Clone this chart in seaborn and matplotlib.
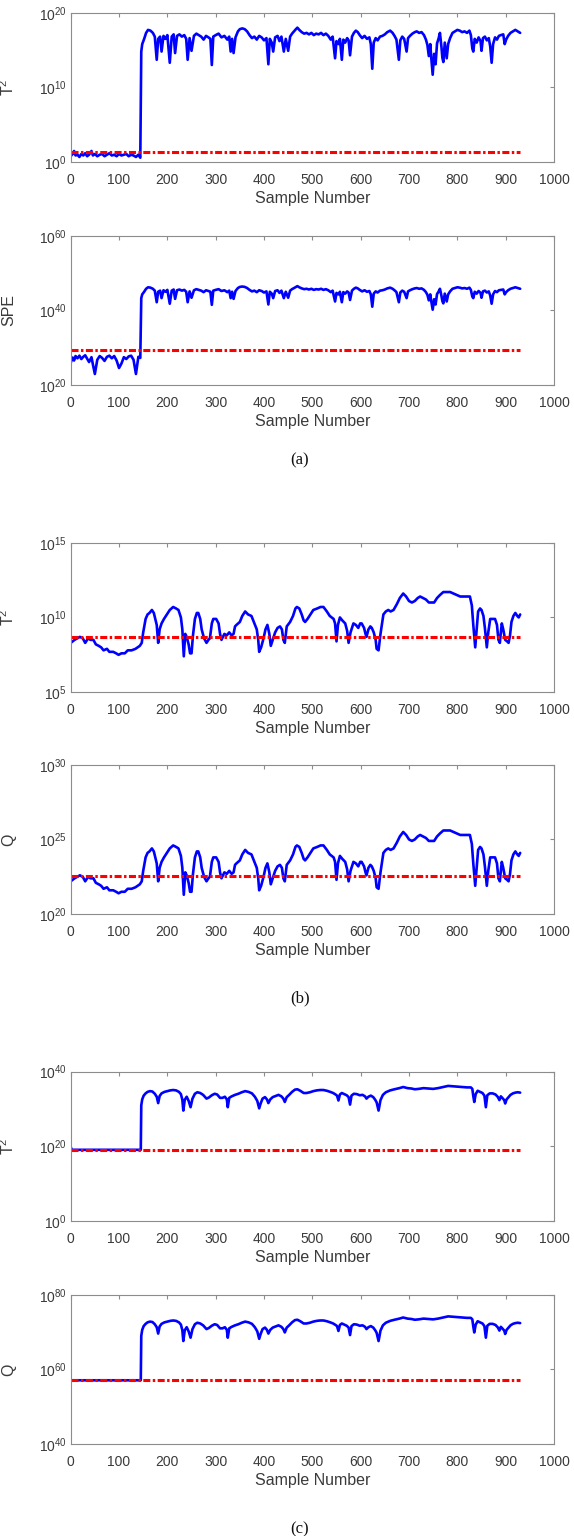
import numpy as np
import matplotlib.pyplot as plt
import seaborn as sns
from matplotlib.ticker import NullLocator

# !! Dados (expoentes log10) !!
a_samples = [0, 4, 7, 10, 14, 18, 22, 26, 30, 34,
             38, 43, 46, 50, 55, 60, 65, 70, 75, 80,
             85, 90, 95, 100, 105, 110, 115, 120, 125, 130,
             135, 140, 144, 146, 148, 152, 156, 160, 165, 170,
             174, 178, 181, 185, 188, 192, 196, 200, 205, 209,
             213, 216, 220, 225, 230, 235, 239, 242, 246, 250,
             255, 260, 265, 270, 275, 280, 285, 289, 292, 295,
             300, 306, 312, 318, 324, 328, 331, 334, 337, 341,
             346, 350, 355, 360, 365, 370, 375, 380, 385, 390,
             395, 400, 405, 409, 412, 416, 419, 423, 428, 432,
             436, 441, 445, 450, 454, 458, 462, 466, 469, 473,
             478, 483, 488, 493, 498, 503, 508, 513, 518, 523,
             528, 533, 538, 542, 547, 550, 554, 557, 561, 564,
             568, 572, 575, 578, 582, 586, 590, 594, 598, 603,
             608, 613, 618, 621, 624, 627, 631, 635, 640, 645,
             650, 655, 661, 666, 670, 674, 679, 682, 686, 690,
             695, 698, 702, 707, 712, 716, 721, 726, 731, 735,
             738, 741, 744, 746, 749, 752, 755, 758, 761, 764,
             767, 769, 771, 774, 778, 781, 785, 790, 795, 800,
             805, 810, 815, 820, 825, 828, 831, 833, 836, 840,
             844, 848, 850, 853, 857, 861, 865, 868, 871, 874,
             878, 882, 886, 890, 895, 898, 901, 905, 910, 915,
             920, 925, 930]
a_t2 = [0.8, 1.1, 1.5, 0.9, 1.0, 0.7, 1.1, 0.9, 1.2, 0.8,
        1.0, 1.5, 0.9, 1.1, 0.8, 1.0, 1.1, 0.8, 1.0, 1.2,
        0.9, 1.0, 0.8, 1.1, 0.9, 1.0, 1.1, 0.8, 1.0, 0.9,
        0.7, 1.0, 0.6, 14.8, 15.8, 16.5, 17.3, 17.7, 17.6, 17.3,
        16.8, 13.7, 16.5, 16.8, 14.8, 16.9, 16.5, 17.0, 13.3, 16.8,
        17.1, 14.6, 16.9, 17.1, 16.8, 17.0, 16.5, 13.7, 16.6, 14.9,
        16.9, 17.2, 17.0, 16.8, 16.4, 16.9, 16.7, 16.5, 13.0, 16.8,
        17.0, 17.2, 16.7, 16.9, 16.4, 16.8, 14.8, 16.5, 14.6, 16.7,
        17.5, 17.8, 17.9, 17.8, 17.5, 17.0, 16.6, 16.8, 16.4, 16.9,
        16.7, 16.3, 16.6, 13.1, 16.5, 16.0, 14.8, 16.7, 16.9, 16.2,
        16.8, 14.8, 16.5, 14.9, 16.8, 17.2, 17.5, 17.8, 18.0, 17.7,
        17.4, 17.2, 17.3, 17.1, 17.3, 17.0, 17.2, 17.1, 17.3, 17.0,
        17.2, 16.9, 16.4, 16.8, 13.9, 16.2, 15.8, 16.5, 13.7, 16.4,
        16.0, 16.6, 16.3, 14.3, 16.8, 17.3, 17.6, 17.4, 17.0, 16.6,
        16.9, 16.5, 16.7, 15.8, 12.5, 16.0, 16.6, 16.3, 16.8, 16.9,
        17.1, 17.4, 17.6, 17.3, 16.9, 16.4, 13.7, 16.3, 16.8, 16.5,
        14.8, 16.6, 16.9, 17.2, 17.4, 17.5, 17.3, 17.4, 17.0, 16.4,
        15.7, 14.2, 15.8, 14.0, 11.7, 14.5, 13.1, 15.9, 16.5, 17.3,
        15.5, 14.0, 13.4, 16.0, 13.9, 15.8, 16.6, 17.3, 17.5, 17.7,
        17.6, 17.4, 17.5, 17.3, 17.6, 17.0, 15.2, 14.8, 16.5, 16.0,
        16.7, 16.2, 14.9, 16.6, 16.8, 16.3, 16.6, 15.5, 13.3, 15.8,
        16.7, 16.4, 16.9, 17.0, 17.1, 15.8, 16.4, 16.9, 17.3, 17.5,
        17.7, 17.5, 17.3]
a_spe = [26.0, 27.4, 26.6, 27.8, 27.2, 27.9, 27.0, 27.6, 28.0, 27.1,
         26.2, 27.5, 25.5, 23.0, 26.8, 27.8, 27.3, 26.5, 27.6, 27.9,
         27.2, 27.8, 26.6, 24.6, 25.8, 27.5, 27.0, 27.7, 27.9, 26.8,
         23.0, 27.6, 27.3, 43.3, 44.3, 45.0, 45.8, 46.2, 46.1, 45.8,
         45.3, 42.2, 45.0, 45.3, 43.3, 45.4, 45.0, 45.5, 41.8, 45.3,
         45.6, 43.1, 45.4, 45.6, 45.3, 45.5, 45.0, 42.2, 45.1, 43.4,
         45.4, 45.7, 45.5, 45.3, 44.9, 45.4, 45.2, 45.0, 41.5, 45.3,
         45.5, 45.7, 45.2, 45.4, 44.9, 45.3, 43.3, 45.0, 43.1, 45.2,
         46.0, 46.3, 46.4, 46.3, 46.0, 45.5, 45.1, 45.3, 44.9, 45.4,
         45.2, 44.8, 45.1, 41.6, 45.0, 44.5, 43.3, 45.2, 45.4, 44.7,
         45.3, 43.3, 45.0, 43.4, 45.3, 45.7, 46.0, 46.3, 46.5, 46.2,
         45.9, 45.7, 45.8, 45.6, 45.8, 45.5, 45.7, 45.6, 45.8, 45.5,
         45.7, 45.4, 44.9, 45.3, 42.4, 44.7, 44.3, 45.0, 42.2, 44.9,
         44.5, 45.1, 44.8, 42.8, 45.3, 45.8, 46.1, 45.9, 45.5, 45.1,
         45.4, 45.0, 45.2, 44.3, 41.0, 44.5, 45.1, 44.8, 45.3, 45.4,
         45.6, 45.9, 46.1, 45.8, 45.4, 44.9, 42.2, 44.8, 45.3, 45.0,
         43.3, 45.1, 45.4, 45.7, 45.9, 46.0, 45.8, 45.9, 45.5, 44.9,
         44.2, 42.7, 44.3, 42.5, 40.2, 43.0, 41.6, 44.4, 45.0, 45.8,
         44.0, 42.5, 41.9, 44.5, 42.4, 44.3, 45.1, 45.8, 46.0, 46.2,
         46.1, 45.9, 46.0, 45.8, 46.1, 45.5, 43.7, 43.3, 45.0, 44.5,
         45.2, 44.7, 43.4, 45.1, 45.3, 44.8, 45.1, 44.0, 41.8, 44.3,
         45.2, 44.9, 45.4, 45.5, 45.6, 44.3, 44.9, 45.4, 45.8, 46.0,
         46.2, 46.0, 45.8]
a_t2_limit = 1.3
a_spe_limit = 29.3

b_samples = [0, 8, 19, 25, 30, 36, 41, 47, 52, 58,
             63, 68, 75, 80, 88, 94, 99, 105, 112, 118,
             126, 134, 143, 147, 150, 155, 159, 163, 168, 172,
             175, 178, 181, 184, 188, 193, 199, 205, 212, 218,
             223, 228, 231, 234, 237, 240, 244, 247, 250, 253,
             257, 261, 264, 268, 271, 276, 281, 285, 288, 292,
             295, 301, 306, 309, 312, 318, 323, 328, 333, 337,
             340, 343, 350, 355, 361, 367, 374, 380, 385, 388,
             390, 394, 399, 403, 407, 411, 414, 418, 423, 428,
             433, 437, 440, 443, 447, 454, 460, 465, 468, 473,
             478, 482, 485, 490, 496, 502, 510, 517, 523, 530,
             536, 540, 544, 547, 550, 553, 557, 562, 568, 572,
             575, 579, 585, 590, 595, 599, 602, 607, 610, 612,
             616, 620, 623, 627, 631, 633, 637, 641, 647, 652,
             657, 662, 668, 675, 681, 688, 694, 700, 706, 712,
             718, 723, 729, 735, 741, 747, 752, 758, 764, 771,
             778, 785, 792, 799, 806, 813, 820, 826, 830, 833,
             837, 840, 843, 847, 850, 854, 857, 861, 864, 868,
             872, 878, 882, 885, 888, 890, 892, 895, 899, 903,
             906, 909, 912, 916, 920, 924, 927, 930]
b_t2 = [8.3, 8.5, 8.7, 8.6, 8.3, 8.6, 8.5, 8.5, 8.2, 8.1,
        8.0, 7.8, 7.9, 7.7, 7.7, 7.6, 7.5, 7.6, 7.6, 7.8,
        7.8, 7.9, 8.1, 8.3, 9.0, 9.9, 10.2, 10.3, 10.5, 10.3,
        9.9, 9.5, 8.3, 9.2, 9.6, 9.9, 10.2, 10.5, 10.7, 10.6,
        10.5, 10.0, 9.2, 7.4, 8.9, 8.7, 8.2, 7.6, 7.6, 8.8,
        9.9, 10.3, 10.3, 9.9, 9.2, 8.6, 8.3, 8.5, 8.6, 9.6,
        9.9, 9.9, 9.6, 8.9, 8.5, 8.9, 8.8, 9.0, 8.8, 8.9,
        9.4, 9.5, 9.7, 10.1, 10.4, 10.2, 10.1, 9.6, 9.2, 8.5,
        7.7, 8.0, 8.6, 9.2, 9.5, 8.9, 8.1, 8.5, 9.0, 9.3,
        9.4, 9.2, 8.5, 8.3, 9.4, 9.7, 10.1, 10.6, 10.7, 10.6,
        10.2, 9.8, 9.7, 9.9, 10.2, 10.5, 10.6, 10.7, 10.7, 10.4,
        10.1, 10.0, 9.9, 9.6, 8.4, 9.5, 10.0, 9.8, 9.6, 9.1,
        8.3, 9.0, 9.6, 9.5, 9.3, 9.6, 9.6, 9.3, 8.9, 8.7,
        9.2, 9.4, 9.3, 9.0, 8.5, 7.9, 7.8, 8.9, 10.2, 10.4,
        10.5, 10.4, 10.5, 10.9, 11.3, 11.6, 11.4, 11.1, 11.0, 11.1,
        11.3, 11.4, 11.3, 11.2, 11.0, 11.0, 11.0, 11.3, 11.5, 11.7,
        11.7, 11.7, 11.6, 11.5, 11.4, 11.4, 11.4, 11.4, 10.8, 9.5,
        8.0, 9.2, 10.4, 10.6, 10.5, 10.1, 9.3, 8.0, 9.0, 9.9,
        9.9, 9.9, 9.5, 8.5, 8.3, 9.0, 9.6, 9.2, 8.5, 8.4,
        8.3, 8.8, 9.7, 10.1, 10.3, 10.1, 10.0, 10.2]
b_q = [22.2, 22.4, 22.6, 22.5, 22.2, 22.5, 22.4, 22.4, 22.1, 22.0,
       21.9, 21.7, 21.8, 21.6, 21.6, 21.5, 21.4, 21.5, 21.5, 21.7,
       21.7, 21.8, 22.0, 22.2, 22.9, 23.8, 24.1, 24.2, 24.4, 24.2,
       23.8, 23.4, 22.2, 23.1, 23.5, 23.8, 24.1, 24.4, 24.6, 24.5,
       24.4, 23.9, 23.1, 21.3, 22.8, 22.6, 22.1, 21.5, 21.5, 22.7,
       23.8, 24.2, 24.2, 23.8, 23.1, 22.5, 22.2, 22.4, 22.5, 23.5,
       23.8, 23.8, 23.5, 22.8, 22.4, 22.8, 22.7, 22.9, 22.7, 22.8,
       23.3, 23.4, 23.6, 24.0, 24.3, 24.1, 24.0, 23.5, 23.1, 22.4,
       21.6, 21.9, 22.5, 23.1, 23.4, 22.8, 22.0, 22.4, 22.9, 23.2,
       23.3, 23.1, 22.4, 22.2, 23.3, 23.6, 24.0, 24.5, 24.6, 24.5,
       24.1, 23.7, 23.6, 23.8, 24.1, 24.4, 24.5, 24.6, 24.6, 24.3,
       24.0, 23.9, 23.8, 23.5, 22.3, 23.4, 23.9, 23.7, 23.5, 23.0,
       22.2, 22.9, 23.5, 23.4, 23.2, 23.5, 23.5, 23.2, 22.8, 22.6,
       23.1, 23.3, 23.2, 22.9, 22.4, 21.8, 21.7, 22.8, 24.1, 24.3,
       24.4, 24.3, 24.4, 24.8, 25.2, 25.5, 25.3, 25.0, 24.9, 25.0,
       25.2, 25.3, 25.2, 25.1, 24.9, 24.9, 24.9, 25.2, 25.4, 25.6,
       25.6, 25.6, 25.5, 25.4, 25.3, 25.3, 25.3, 25.3, 24.7, 23.4,
       21.9, 23.1, 24.3, 24.5, 24.4, 24.0, 23.2, 21.9, 22.9, 23.8,
       23.8, 23.8, 23.4, 22.4, 22.2, 22.9, 23.5, 23.1, 22.4, 22.3,
       22.2, 22.7, 23.6, 24.0, 24.2, 24.0, 23.9, 24.1]
b_t2_limit = 8.68
b_q_limit = 22.55

c_samples = [0, 2, 20, 40, 60, 80, 100, 120, 140, 145,
             146, 148, 151, 155, 159, 164, 169, 174, 178, 181,
             184, 188, 194, 200, 206, 212, 218, 224, 228, 231,
             233, 236, 240, 244, 248, 252, 257, 262, 268, 274,
             281, 286, 292, 298, 303, 309, 314, 319, 323, 325,
             328, 333, 340, 347, 354, 361, 368, 375, 381, 386,
             390, 393, 397, 402, 406, 409, 413, 418, 424, 430,
             436, 440, 443, 447, 452, 458, 464, 469, 475, 482,
             488, 495, 502, 509, 516, 523, 530, 537, 543, 548,
             551, 554, 557, 561, 566, 571, 575, 578, 581, 586,
             592, 598, 604, 609, 612, 616, 621, 626, 630, 633,
             637, 641, 646, 652, 661, 670, 680, 688, 697, 705,
             712, 720, 730, 740, 750, 760, 770, 781, 790, 800,
             810, 820, 828, 831, 833, 835, 838, 842, 847, 852,
             856, 859, 862, 867, 873, 879, 884, 887, 890, 893,
             897, 899, 902, 906, 910, 915, 920, 925, 930]
c_t2 = [19.9, 19.1, 19.1, 19.1, 19.1, 19.1, 19.1, 19.1, 19.1, 19.1,
        31.0, 32.6, 33.6, 34.2, 34.6, 34.8, 34.7, 34.1, 33.3, 31.6,
        33.5, 34.2, 34.6, 34.8, 35.0, 35.1, 35.0, 34.6, 34.0, 32.5,
        29.6, 32.5, 33.3, 32.2, 30.5, 32.8, 34.1, 34.5, 34.3, 33.8,
        32.8, 33.1, 33.7, 34.1, 33.9, 33.0, 33.0, 33.3, 32.6, 30.5,
        33.0, 33.4, 33.8, 34.1, 34.5, 34.8, 34.6, 34.2, 33.3, 32.2,
        30.2, 31.5, 32.8, 33.2, 32.6, 31.6, 32.6, 33.2, 33.5, 33.8,
        33.4, 32.8, 31.9, 33.2, 33.8, 34.6, 35.2, 35.3, 34.9, 34.3,
        34.3, 34.5, 34.8, 35.0, 35.1, 35.1, 34.9, 34.6, 34.3, 33.9,
        33.6, 32.3, 33.9, 34.3, 34.0, 33.7, 33.2, 31.2, 33.6, 34.1,
        34.0, 33.7, 33.8, 33.4, 32.8, 33.3, 33.6, 33.2, 32.5, 31.8,
        29.6, 32.4, 33.8, 34.5, 35.0, 35.3, 35.6, 35.9, 35.6, 35.5,
        35.3, 35.4, 35.6, 35.5, 35.4, 35.6, 35.9, 36.2, 36.1, 36.0,
        35.9, 35.8, 35.8, 35.4, 33.5, 31.9, 34.0, 34.9, 34.6, 34.3,
        33.6, 30.5, 33.7, 34.2, 34.2, 33.9, 33.2, 32.4, 33.4, 33.0,
        32.4, 31.5, 32.6, 33.2, 33.8, 34.2, 34.4, 34.5, 34.4]
c_q = [57.1, 57.1, 57.1, 57.1, 57.1, 57.1, 57.1, 57.1, 57.1, 57.1,
       69.0, 70.6, 71.6, 72.2, 72.6, 72.8, 72.7, 72.1, 71.3, 69.6,
       71.5, 72.2, 72.6, 72.8, 73.0, 73.1, 73.0, 72.6, 72.0, 70.5,
       67.6, 70.5, 71.3, 70.2, 68.5, 70.8, 72.1, 72.5, 72.3, 71.8,
       70.8, 71.1, 71.7, 72.1, 71.9, 71.0, 71.0, 71.3, 70.6, 68.5,
       71.0, 71.4, 71.8, 72.1, 72.5, 72.8, 72.6, 72.2, 71.3, 70.2,
       68.2, 69.5, 70.8, 71.2, 70.6, 69.6, 70.6, 71.2, 71.5, 71.8,
       71.4, 70.8, 69.9, 71.2, 71.8, 72.6, 73.2, 73.3, 72.9, 72.3,
       72.3, 72.5, 72.8, 73.0, 73.1, 73.1, 72.9, 72.6, 72.3, 71.9,
       71.6, 70.3, 71.9, 72.3, 72.0, 71.7, 71.2, 69.2, 71.6, 72.1,
       72.0, 71.7, 71.8, 71.4, 70.8, 71.3, 71.6, 71.2, 70.5, 69.8,
       67.6, 70.4, 71.8, 72.5, 73.0, 73.3, 73.6, 73.9, 73.6, 73.5,
       73.3, 73.4, 73.6, 73.5, 73.4, 73.6, 73.9, 74.2, 74.1, 74.0,
       73.9, 73.8, 73.8, 73.4, 71.5, 69.9, 72.0, 72.9, 72.6, 72.3,
       71.6, 68.5, 71.7, 72.2, 72.2, 71.9, 71.2, 70.4, 71.4, 71.0,
       70.4, 69.5, 70.6, 71.2, 71.8, 72.2, 72.4, 72.5, 72.4]
c_t2_limit = 19.1
c_q_limit = 57.1

ylabels = [r'T$^2$', 'SPE', r'T$^2$', 'Q', r'T$^2$', 'Q']
ytick_exps = [[0, 10, 20], [20, 40, 60], [5, 10, 15],
              [20, 25, 30], [0, 20, 40], [40, 60, 80]]
captions = ['(a)', '(b)', '(c)']
xticks = list(range(0, 1001, 100))

# !! Estilo parecido com o MATLAB !!
sns.set_style('white')
plt.rcParams['font.family'] = ['Liberation Sans', 'DejaVu Sans']
plt.rcParams['mathtext.fontset'] = 'custom'
plt.rcParams['mathtext.rm'] = 'Liberation Sans'
plt.rcParams['mathtext.it'] = 'Liberation Sans:italic'
plt.rcParams['mathtext.bf'] = 'Liberation Sans:bold'

W, H = 574, 1536
fig = plt.figure(figsize=(W / 100, H / 100), dpi=100)

panels = [
    (a_samples, a_t2, a_t2_limit),
    (a_samples, a_spe, a_spe_limit),
    (b_samples, b_t2, b_t2_limit),
    (b_samples, b_q, b_q_limit),
    (c_samples, c_t2, c_t2_limit),
    (c_samples, c_q, c_q_limit),
]
tops = [12.7, 235.7, 542.7, 764.7, 1071.7, 1294.7]
ax_left, ax_w, ax_h = 70.7, 483.3, 149.5
spine_col = '#8c8c8c'
text_col = '#3a3a3a'

for i, (xs, exps, lim) in enumerate(panels):
    ax = fig.add_axes([ax_left / W, 1 - (tops[i] + ax_h) / H, ax_w / W, ax_h / H])
    ax.set_yscale('log')
    vals = 10.0 ** np.array(exps)
    sns.lineplot(x=xs, y=vals, ax=ax, color='#0000ff', linewidth=1.9,
                 estimator=None, sort=False, legend=False)
    sns.lineplot(x=[xs[0], xs[-1]], y=[10.0 ** lim] * 2, ax=ax, color='#ff0000',
                 linewidth=2.2, linestyle=(0, (2.3, 0.8, 0.8, 0.8)),
                 estimator=None, sort=False, legend=False)

    e = ytick_exps[i]
    ax.set_ylim(10.0 ** e[0], 10.0 ** e[-1])
    ax.set_yticks([10.0 ** v for v in e])
    ax.yaxis.set_minor_locator(NullLocator())
    ax.set_xlim(0, 1000)
    ax.set_xticks(xticks)

    for sp in ax.spines.values():
        sp.set_color(spine_col)
        sp.set_linewidth(0.8)
    ax.tick_params(axis='both', direction='in', top=True, right=True,
                   length=3, width=0.8, color=spine_col,
                   labelsize=10, labelcolor=text_col)
    ax.tick_params(axis='x', pad=8)
    ax.tick_params(axis='y', pad=3)

    ax.set_xlabel('Sample Number', fontsize=11.5, color=text_col)
    ax.set_ylabel(ylabels[i], fontsize=11.5, color=text_col)
    ax.xaxis.set_label_coords(0.5, -29 / ax_h)
    ax.yaxis.set_label_coords(-54 / ax_w, 0.5)

# legendas (a), (b), (c)
for cap, y in zip(captions, [460, 998, 1529]):
    fig.text(300 / W, 1 - y / H, cap, ha='center', va='center',
             fontsize=12, family='Liberation Serif', color='#111111')

fig.savefig('out.png', dpi=100)
